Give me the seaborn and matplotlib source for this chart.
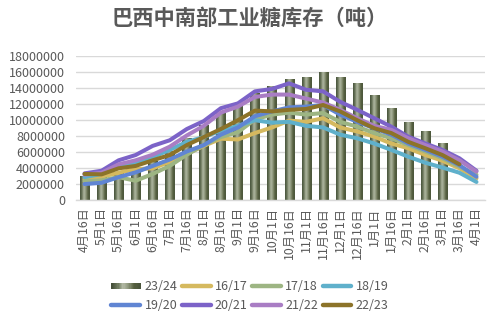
import numpy as np
import pandas as pd
import matplotlib
matplotlib.use("Agg")
import matplotlib.pyplot as plt
import seaborn as sns
from matplotlib.patches import Rectangle
from matplotlib.lines import Line2D
from matplotlib.legend_handler import HandlerBase
from matplotlib.colors import LinearSegmentedColormap

# ---------------- data ----------------
dates = ["4月16日", "5月1日", "5月16日", "6月1日", "6月16日", "7月1日", "7月16日",
         "8月1日", "8月16日", "9月1日", "9月16日", "10月1日", "10月16日", "11月1日",
         "11月16日", "12月1日", "12月16日", "1月1日", "1月16日", "2月1日", "2月16日",
         "3月1日", "3月16日", "4月1日"]

s2324 = [3.0, 3.1, 3.6, 3.8, 4.9, 6.2, 7.8, 9.4, 10.9, 12.2, 13.4, 14.3, 15.1, 15.4,
         16.0, 15.4, 14.6, 13.15, 11.5, 9.75, 8.66, 7.1]
s1617 = [2.64, 2.96, 3.45, 3.9, 4.0, 4.8, 5.8, 6.8, 7.7, 7.6, 8.4, 9.1, 9.95, 9.8,
         10.25, 9.1, 8.6, 7.95, 7.1, 6.5, 5.66, 4.95, 4.0, 2.75]
s1718 = [2.4, 2.5, 2.9, 2.45, 3.3, 4.3, 5.7, 6.9, 7.9, 8.5, 10.1, 10.7, 10.95, 10.7,
         10.9, 9.8, 9.2, 8.4, 7.75, 6.9, 6.1, 5.25, 4.2, 3.2]
s1819 = [2.9, 3.3, 4.2, 4.7, 5.4, 6.3, 7.3, 7.9, 8.7, 9.3, 10.0, 9.7, 9.8, 9.3,
         9.1, 8.2, 7.75, 7.1, 6.3, 5.45, 4.7, 4.1, 3.45, 2.3]
s1920 = [2.04, 2.2, 2.9, 3.5, 4.3, 5.1, 6.1, 6.9, 8.2, 9.1, 10.5, 11.1, 11.6, 11.7,
         11.9, 10.7, 9.8, 9.0, 8.2, 7.1, 6.3, 5.45, 4.4, 2.95]
s2021 = [3.37, 3.7, 5.0, 5.66, 6.8, 7.5, 8.9, 9.9, 11.5, 12.1, 13.6, 13.9, 14.6, 13.8,
         13.6, 12.3, 11.3, 10.25, 9.2, 7.95, 7.1, 6.3, 5.25, 3.7]
s2122 = [3.2, 3.45, 4.5, 5.0, 5.7, 6.7, 8.1, 9.3, 10.95, 11.7, 12.9, 13.2, 13.2, 12.7,
         12.2, 11.3, 10.25, 9.3, 8.8, 7.75, 6.9, 6.1, 5.0, 3.6]
s2223 = [3.3, 3.25, 4.0, 4.3, 5.0, 5.66, 6.9, 7.9, 8.9, 10.0, 11.2, 11.1, 11.3, 11.4,
         11.9, 11.1, 10.0, 9.0, 8.4, 7.3, 6.5, 5.66, 4.5]

line_series = {"16/17": s1617, "17/18": s1718, "18/19": s1819, "19/20": s1920,
               "20/21": s2021, "21/22": s2122, "22/23": s2223}
line_colors = {"16/17": "#D5B95F", "17/18": "#9DB583", "18/19": "#5FB0CB",
               "19/20": "#6085D3", "20/21": "#7C63C8", "21/22": "#A97DC4",
               "22/23": "#8C7329"}
title = "巴西中南部工业糖库存（吨）"
yticks = [0, 2000000, 4000000, 6000000, 8000000, 10000000, 12000000,
          14000000, 16000000, 18000000]

# ---------------- style ----------------
sns.set_theme(style="white")
plt.rcParams["font.family"] = ["Noto Sans CJK SC", "DejaVu Sans"]
txt = "#595959"
grid_c = "#D9D9D9"

pos = {d: i for i, d in enumerate(dates)}
bar_df = pd.DataFrame({"date": dates[:len(s2324)],
                       "value": np.array(s2324) * 1e6})
rows = []
for name, vals in line_series.items():
    for d, v in zip(dates, vals):
        rows.append({"season": name, "pos": pos[d], "value": v * 1e6})
line_df = pd.DataFrame(rows)

fig = plt.figure(figsize=(5.0, 3.28), dpi=100)
ax = fig.add_axes([0.152, 0.389, 0.818, 0.440])

sns.barplot(data=bar_df, x="date", y="value", order=dates, ax=ax,
            color="#6E7860", width=0.53, saturation=1, zorder=2)

# cylinder-like gradient on each bar
grad_cmap = LinearSegmentedColormap.from_list(
    "cyl", ["#46513A", "#6A765A", "#B3BAA5", "#8C957A", "#56603F", "#4A553B"])
grad = np.linspace(0, 1, 64).reshape(1, -1)
for p in list(ax.patches):
    x0, y0 = p.get_x(), p.get_y()
    w, h = p.get_width(), p.get_height()
    im = ax.imshow(grad, cmap=grad_cmap, aspect="auto",
                   extent=[x0, x0 + w, y0, y0 + h], zorder=2,
                   interpolation="bicubic")
    im.set_clip_path(p)
    p.set_facecolor("none")
    p.set_edgecolor("none")

sns.lineplot(data=line_df, x="pos", y="value", hue="season",
             palette=line_colors, hue_order=list(line_series.keys()),
             linewidth=2.9, ax=ax, legend=False, zorder=3,
             solid_joinstyle="round", solid_capstyle="round")

ax.set_xlim(-0.5, len(dates) - 0.5)
ax.set_ylim(0, 18000000)
ax.set_yticks(yticks)
ax.set_yticklabels([str(v) for v in yticks])
ax.set_xticks(range(len(dates)))
ax.set_xticklabels(dates, rotation=90)
ax.set_xlabel("")
ax.set_ylabel("")
ax.yaxis.grid(True, color=grid_c, linewidth=1.0, zorder=0)
ax.set_axisbelow(True)
for s in ["left", "right", "top"]:
    ax.spines[s].set_visible(False)
ax.spines["bottom"].set_color(grid_c)
ax.spines["bottom"].set_linewidth(1.0)
ax.tick_params(axis="y", length=0, pad=8, labelsize=9, labelcolor=txt)
ax.tick_params(axis="x", length=0, pad=5, labelsize=8.8, labelcolor=txt)

fig.text(0.5, 0.945, title, ha="center", va="center", fontsize=15.3,
         fontweight="bold", color=txt)


class GradHandler(HandlerBase):
    def create_artists(self, legend, orig_handle, xdescent, ydescent,
                       width, height, fontsize, trans):
        arts = []
        n = 24
        cols = grad_cmap(np.linspace(0, 1, n))
        hh = height * 0.75
        y0 = -ydescent + (height - hh) / 2
        for i in range(n):
            r = Rectangle((-xdescent + width * i / n, y0), width / n + 0.4, hh,
                          facecolor=cols[i], edgecolor="none", transform=trans)
            arts.append(r)
        return arts


bar_handle = Rectangle((0, 0), 1, 1)
handles = [bar_handle] + [Line2D([0], [0], color=line_colors[k], lw=3.2,
                                 solid_capstyle="round")
                          for k in line_series]
labels = ["23/24"] + list(line_series.keys())
# legend fills column-wise; reorder so rows read left-to-right
order = [0, 4, 1, 5, 2, 6, 3, 7]
handles = [handles[i] for i in order]
labels = [labels[i] for i in order]
leg = fig.legend(handles, labels, loc="center", bbox_to_anchor=(0.5, 0.097),
                 ncol=4, frameon=False, fontsize=9, handlelength=2.3,
                 handletextpad=0.35, columnspacing=0.35, labelspacing=0.45,
                 handler_map={Rectangle: GradHandler()})
for t in leg.get_texts():
    t.set_color(txt)

fig.savefig("out.png", dpi=100)
